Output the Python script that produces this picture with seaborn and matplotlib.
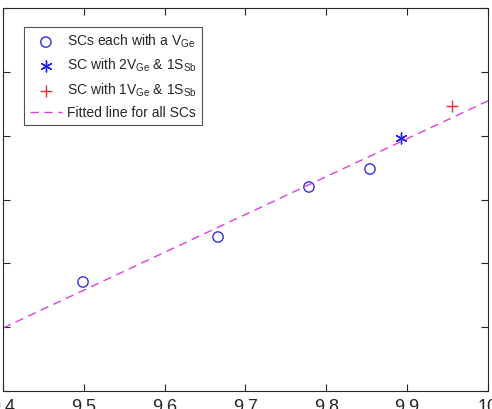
import matplotlib
matplotlib.use('Agg')
import matplotlib.pyplot as plt
import numpy as np
import pandas as pd
import seaborn as sns

# data (y axis labels are cropped away, units arbitrary)
vge_x = [9.499, 9.666, 9.7785, 9.854]
vge_y = [1.708, 2.413, 3.196, 3.478]
two_v_x = [9.892]
two_v_y = [3.964]
one_v_x = [9.955]
one_v_y = [4.465]
fit_x = [9.4, 10.0]
fit_y = [0.987, 4.545]

x_ticks = [9.4, 9.5, 9.6, 9.7, 9.8, 9.9, 10]
y_ticks = [0, 1, 2, 3, 4, 5, 6]

sns.set_style('ticks')
plt.rcParams['font.family'] = ['Liberation Sans', 'DejaVu Sans']
plt.rcParams['mathtext.fontset'] = 'custom'
plt.rcParams['mathtext.rm'] = 'Liberation Sans'
plt.rcParams['mathtext.it'] = 'Liberation Sans'

fig = plt.figure(figsize=(4.92, 4.09), dpi=100)
ax = fig.add_axes([3 / 492, 18 / 409, 485 / 492, 383 / 409])

sns.scatterplot(x=vge_x, y=vge_y, ax=ax, marker='o', s=55, facecolor='none',
                edgecolor='#3030e0', linewidth=1.0,
                label='SCs each with a V$_{\\mathrm{Ge}}$')
sns.scatterplot(x=two_v_x, y=two_v_y, ax=ax, marker=(6, 2, 0), s=60,
                color='#2020e8', linewidth=1.0,
                label='SC with 2V$_{\\mathrm{Ge}}$ & 1S$_{\\mathrm{Sb}}$')
sns.scatterplot(x=one_v_x, y=one_v_y, ax=ax, marker='+', s=70,
                color='#f03030', linewidth=1.0,
                label='SC with 1V$_{\\mathrm{Ge}}$ & 1S$_{\\mathrm{Sb}}$')
sns.lineplot(x=fit_x, y=fit_y, ax=ax, color='#e040e0', linewidth=1.0,
             label='Fitted line for all SCs')
ax.lines[-1].set_linestyle((0, (6, 4)))

ax.set_xlim(9.4, 10)
ax.set_ylim(0, 6)
ax.set_xticks(x_ticks)
ax.set_xticklabels(['9.4', '9.5', '9.6', '9.7', '9.8', '9.9', '10'])
ax.set_yticks(y_ticks)
ax.tick_params(direction='in', length=5, width=0.8, colors='#262626',
               top=True, right=True, labelsize=13, pad=6)
for sp in ax.spines.values():
    sp.set_visible(True)
    sp.set_color('#262626')
    sp.set_linewidth(0.8)

leg = ax.legend(loc='upper left', bbox_to_anchor=(0.044, 0.95), fontsize=10,
                borderaxespad=0, frameon=True, fancybox=False,
                edgecolor='#262626', handlelength=2.3, handletextpad=0.35,
                borderpad=0.4, labelspacing=0.5)
leg.get_frame().set_linewidth(0.8)

fig.savefig('out.png', dpi=100)
